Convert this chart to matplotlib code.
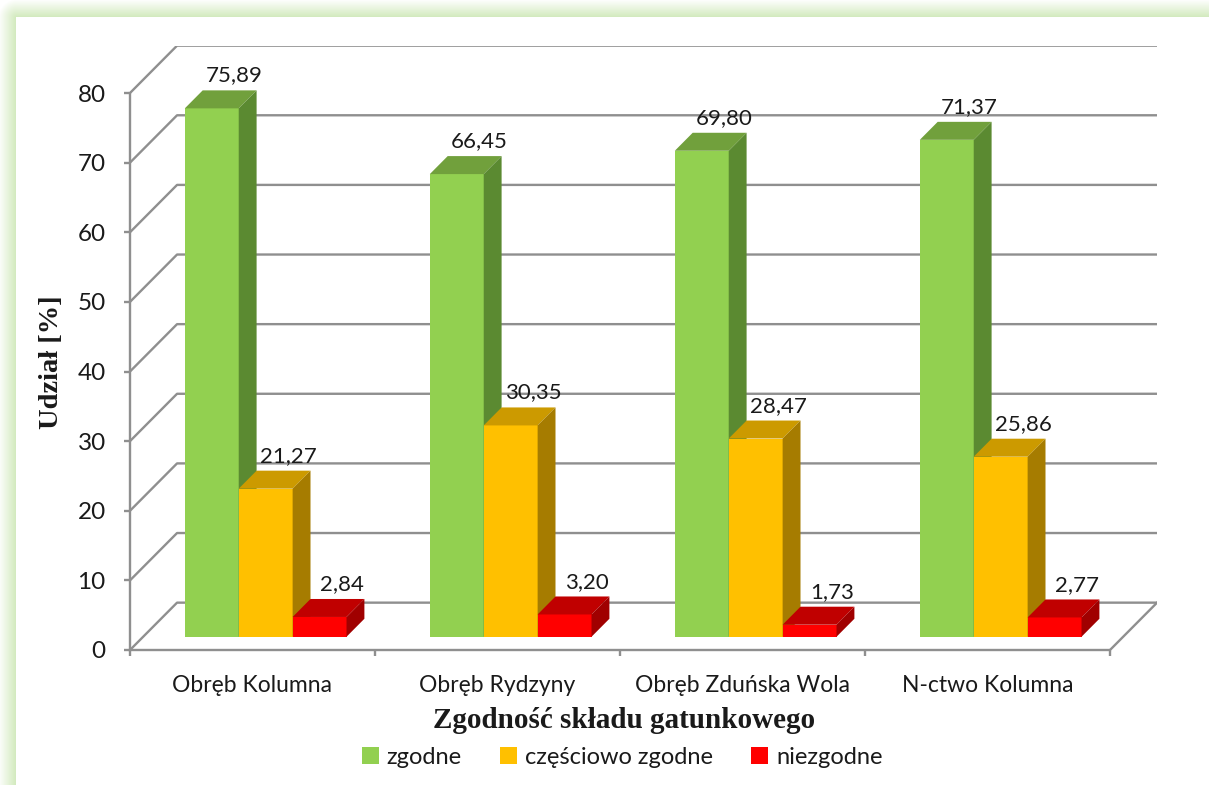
import numpy as np
import matplotlib.pyplot as plt
from matplotlib.patches import Polygon, Patch

kategorie = ['Obręb Kolumna', 'Obręb Rydzyny', 'Obręb Zduńska Wola', 'N-ctwo Kolumna']
zgodne = [75.89, 66.45, 69.80, 71.37]
czesciowo_zgodne = [21.27, 30.35, 28.47, 25.86]
niezgodne = [2.84, 3.20, 1.73, 2.77]
serie = ['zgodne', 'częściowo zgodne', 'niezgodne']
y_ticks = [0, 10, 20, 30, 40, 50, 60, 70, 80]

# kolory: przod, gora, bok
kolory = [('#92D050', '#71A03C', '#5B8A31'),
          ('#FFC000', '#CC9A00', '#A67C00'),
          ('#FF0000', '#C00000', '#A00000')]
SZARY = '#8f8f8f'
TEKST = '#1a1a1a'

# glebokosc "3D" w jednostkach danych
DX = 0.192
DY = 6.8
F0 = 0.28   # przod slupka
F1 = 0.66   # tyl slupka
SZER = 0.22

plt.rcParams['font.family'] = ['Lato', 'DejaVu Sans']

W, H = 1209, 785
fig = plt.figure(figsize=(W / 100, H / 100), dpi=100)

# tlo z zielona poswiata (lewy i gorny brzeg)
bg = fig.add_axes([0, 0, 1, 1], zorder=-10)
px = np.arange(W)[None, :]
py = np.arange(H)[:, None]
d = np.sqrt(np.clip(16 - px, 0, None) ** 2 + np.clip(17 - py, 0, None) ** 2)
a = np.where(d > 0, np.clip(1 - (d - 1) / 17, 0, 1), 0)
zielony = np.array([0.83, 0.92, 0.75])
img = 1 - a[..., None] * (1 - zielony)
bg.imshow(img, aspect='auto', extent=[0, 1, 0, 1], interpolation='bilinear')
bg.axis('off')

# os glowna - skala 245 px na kategorie, 6.9625 px na jednostke
ax = fig.add_axes([130 / W, (H - 650) / H, (4 + DX) * 245 / W, (80 + DY) * 6.9625 / H])
ax.patch.set_alpha(0)
ax.set_xlim(-0.5, 3.5 + DX)
ax.set_ylim(0, 80 + DY)

# siatka na tylnej i lewej scianie
for v in y_ticks:
    ax.plot([-0.5, -0.5 + DX, 3.5 + DX], [v, v + DY, v + DY], color=SZARY, lw=1.7, zorder=1,
            solid_capstyle='butt')
ax.plot([3.5, 3.5 + DX], [0, DY], color=SZARY, lw=1.7, zorder=1)

for s in ['top', 'right']:
    ax.spines[s].set_visible(False)
ax.spines['left'].set_bounds(0, 80)
ax.spines['bottom'].set_bounds(-0.5, 3.5)
for s in ['left', 'bottom']:
    ax.spines[s].set_color(SZARY)
    ax.spines[s].set_linewidth(1.7)

wartosci = [zgodne, czesciowo_zgodne, niezgodne]
z = 3
for i in range(len(kategorie)):
    for j, seria in enumerate(wartosci):
        v = seria[i]
        przod, gora, bok = kolory[j]
        xl = i + (j - 1.5) * SZER + F0 * DX
        xr = xl + SZER
        y0 = F0 * DY
        y1 = v + F0 * DY
        bx = (F1 - F0) * DX
        by = (F1 - F0) * DY
        ax.bar(xl, v, width=SZER, bottom=y0, align='edge', color=przod, lw=0, zorder=z)
        ax.add_patch(Polygon([(xl, y1), (xr, y1), (xr + bx, y1 + by), (xl + bx, y1 + by)],
                             closed=True, facecolor=gora, lw=0, zorder=z))
        ax.add_patch(Polygon([(xr, y0), (xr, y1), (xr + bx, y1 + by), (xr + bx, y0 + by)],
                             closed=True, facecolor=bok, lw=0, zorder=z))
        ax.annotate(f'{v:.2f}'.replace('.', ','),
                    xy=(i + (j - 1) * SZER + F1 * DX + 0.02, v + F1 * DY),
                    xytext=(0, 3.5), textcoords='offset points',
                    ha='center', va='bottom', fontsize=16, color=TEKST, zorder=20)
        z += 1

ax.set_yticks(y_ticks)
ax.tick_params(axis='y', length=4.5, width=1.7, color=SZARY, pad=13, labelsize=17.5, labelcolor=TEKST)
ax.set_xticks([-0.5, 0.5, 1.5, 2.5, 3.5])
ax.set_xticklabels([])
ax.tick_params(axis='x', which='major', length=4.5, width=1.7, color=SZARY)
ax.set_xticks(range(len(kategorie)), minor=True)
ax.set_xticklabels(kategorie, minor=True)
ax.tick_params(axis='x', which='minor', length=0, pad=18, labelsize=16.5, labelcolor=TEKST)

fig.text(624 / W, (H - 721) / H, 'Zgodność składu gatunkowego', ha='center', va='center',
         family='Liberation Serif', fontweight='bold', fontsize=21, color=TEKST)
fig.text(52 / W, (H - 362) / H, 'Udział [%]', ha='center', va='center', rotation=90,
         family='Liberation Serif', fontweight='bold', fontsize=20.5, color=TEKST)

uchwyty = [Patch(facecolor=k[0], edgecolor='none') for k in kolory]
fig.legend(uchwyty, serie, loc='center', bbox_to_anchor=(622 / W, (H - 757) / H), ncol=3,
           frameon=False, fontsize=17, handlelength=0.72, handleheight=0.72,
           handletextpad=0.35, columnspacing=1.6, labelcolor=TEKST)

fig.savefig('out.png', dpi=100)
